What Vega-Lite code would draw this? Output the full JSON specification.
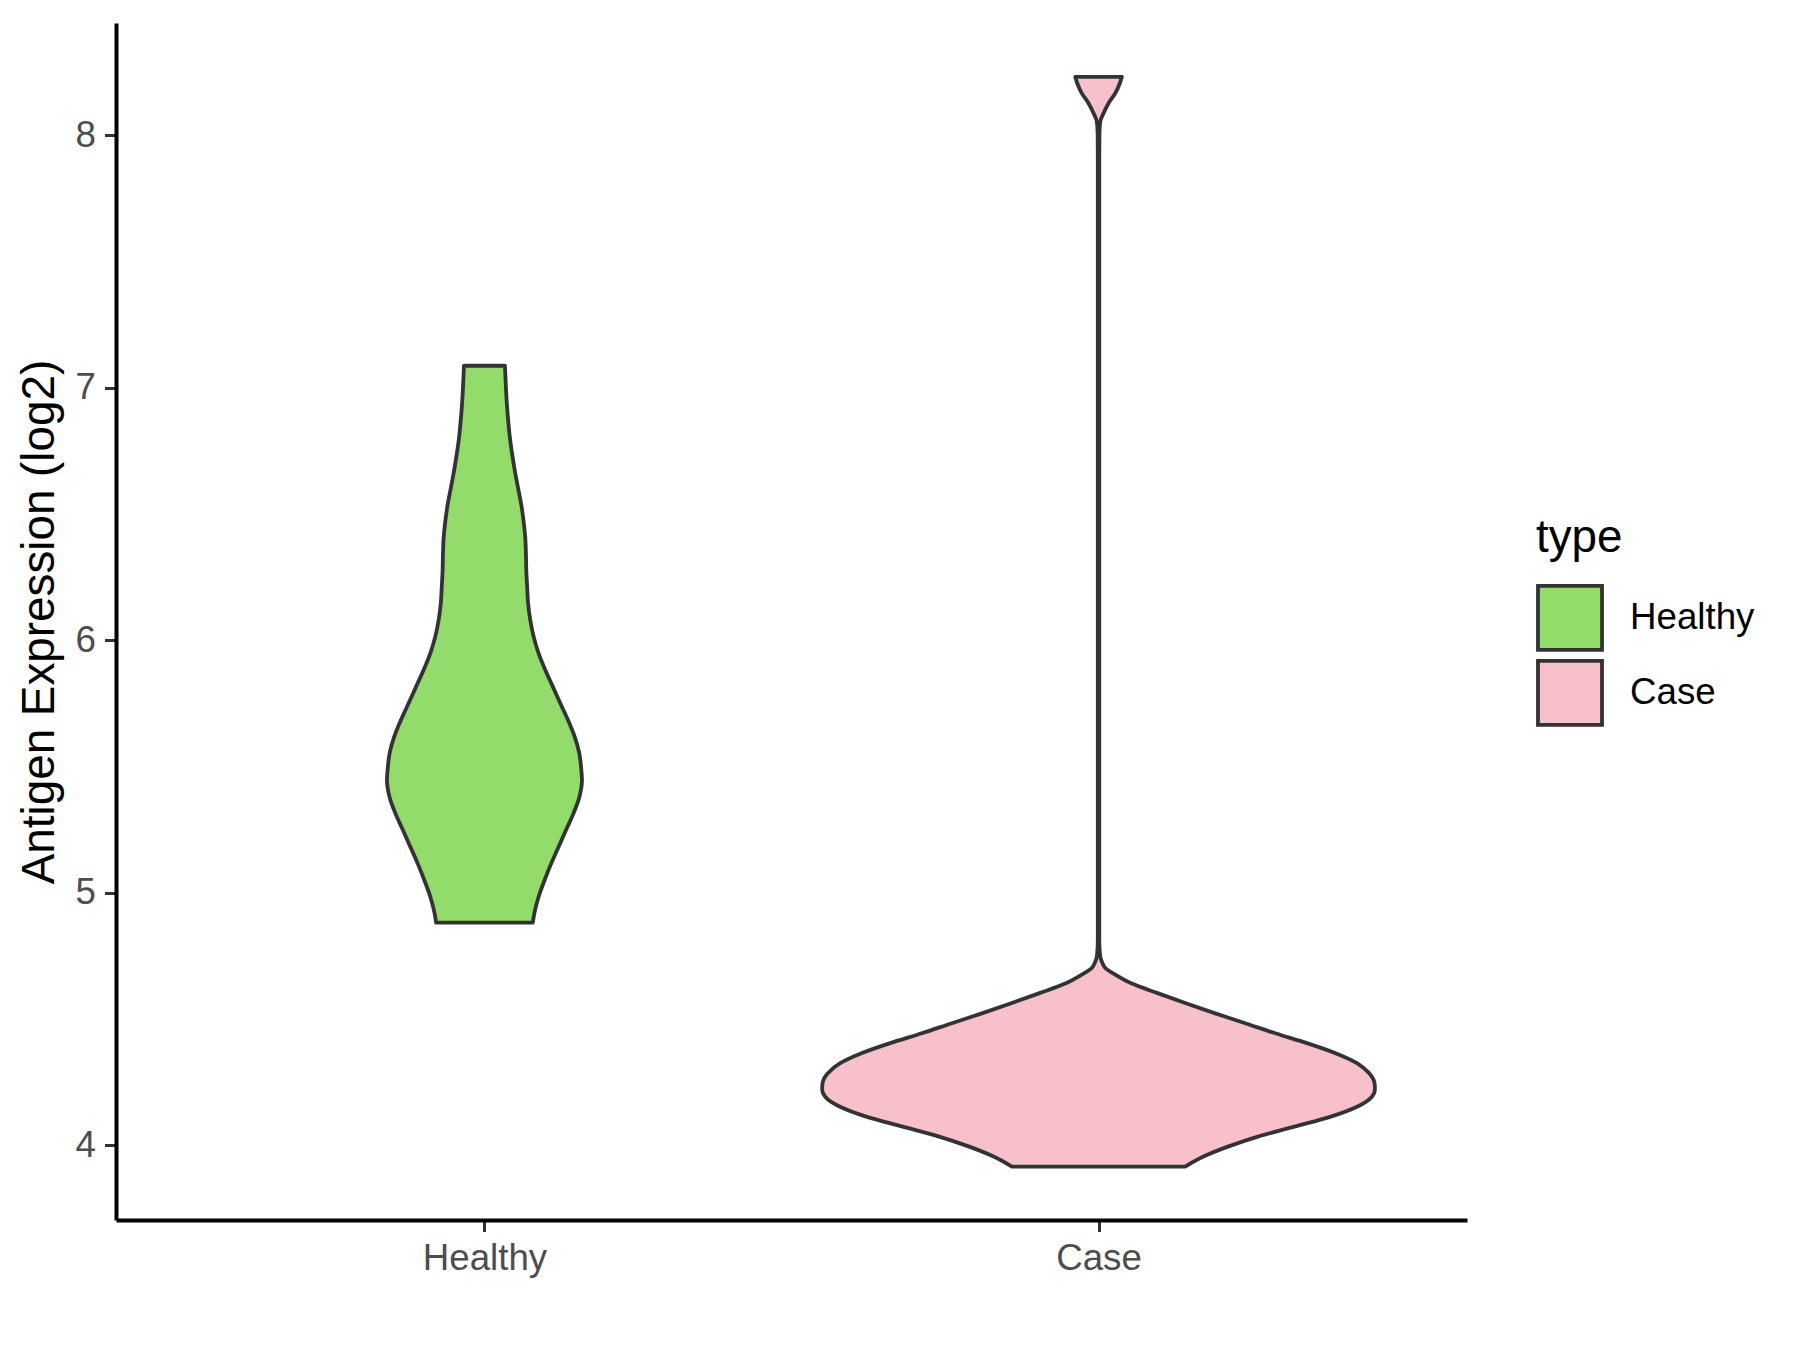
{
  "$schema": "https://vega.github.io/schema/vega-lite/v6.json",
  "width": 1351,
  "height": 1197,
  "autosize": {"type": "none"},
  "padding": {"left": 116, "top": 23, "right": 333, "bottom": 130},
  "background": "white",
  "config": {"view": {"stroke": null}, "font": "Liberation Sans"},
  "data": {
    "values": [
      {"type": "Healthy", "value": 7.088, "lo": 0.9666, "hi": 1.0334},
      {"type": "Healthy", "value": 6.999, "lo": 0.9650, "hi": 1.0350},
      {"type": "Healthy", "value": 6.933, "lo": 0.9634, "hi": 1.0366},
      {"type": "Healthy", "value": 6.867, "lo": 0.9612, "hi": 1.0388},
      {"type": "Healthy", "value": 6.801, "lo": 0.9585, "hi": 1.0415},
      {"type": "Healthy", "value": 6.735, "lo": 0.9547, "hi": 1.0453},
      {"type": "Healthy", "value": 6.669, "lo": 0.9503, "hi": 1.0497},
      {"type": "Healthy", "value": 6.603, "lo": 0.9452, "hi": 1.0548},
      {"type": "Healthy", "value": 6.537, "lo": 0.9400, "hi": 1.0600},
      {"type": "Healthy", "value": 6.471, "lo": 0.9362, "hi": 1.0638},
      {"type": "Healthy", "value": 6.405, "lo": 0.9335, "hi": 1.0665},
      {"type": "Healthy", "value": 6.339, "lo": 0.9324, "hi": 1.0676},
      {"type": "Healthy", "value": 6.279, "lo": 0.9319, "hi": 1.0681},
      {"type": "Healthy", "value": 6.213, "lo": 0.9305, "hi": 1.0695},
      {"type": "Healthy", "value": 6.147, "lo": 0.9289, "hi": 1.0711},
      {"type": "Healthy", "value": 6.081, "lo": 0.9254, "hi": 1.0746},
      {"type": "Healthy", "value": 6.015, "lo": 0.9199, "hi": 1.0801},
      {"type": "Healthy", "value": 5.949, "lo": 0.9118, "hi": 1.0882},
      {"type": "Healthy", "value": 5.883, "lo": 0.9009, "hi": 1.0991},
      {"type": "Healthy", "value": 5.817, "lo": 0.8887, "hi": 1.1113},
      {"type": "Healthy", "value": 5.751, "lo": 0.8765, "hi": 1.1235},
      {"type": "Healthy", "value": 5.685, "lo": 0.8640, "hi": 1.1360},
      {"type": "Healthy", "value": 5.619, "lo": 0.8531, "hi": 1.1469},
      {"type": "Healthy", "value": 5.553, "lo": 0.8455, "hi": 1.1545},
      {"type": "Healthy", "value": 5.487, "lo": 0.8423, "hi": 1.1577},
      {"type": "Healthy", "value": 5.448, "lo": 0.8412, "hi": 1.1588},
      {"type": "Healthy", "value": 5.381, "lo": 0.8453, "hi": 1.1547},
      {"type": "Healthy", "value": 5.316, "lo": 0.8548, "hi": 1.1452},
      {"type": "Healthy", "value": 5.250, "lo": 0.8670, "hi": 1.1330},
      {"type": "Healthy", "value": 5.183, "lo": 0.8792, "hi": 1.1208},
      {"type": "Healthy", "value": 5.117, "lo": 0.8912, "hi": 1.1088},
      {"type": "Healthy", "value": 5.051, "lo": 0.9020, "hi": 1.0980},
      {"type": "Healthy", "value": 4.985, "lo": 0.9118, "hi": 1.0882},
      {"type": "Healthy", "value": 4.919, "lo": 0.9188, "hi": 1.0812},
      {"type": "Healthy", "value": 4.882, "lo": 0.9213, "hi": 1.0787},
      {"type": "Case", "value": 8.232, "lo": 1.9620, "hi": 2.0380},
      {"type": "Case", "value": 8.207, "lo": 1.9653, "hi": 2.0347},
      {"type": "Case", "value": 8.167, "lo": 1.9728, "hi": 2.0272},
      {"type": "Case", "value": 8.128, "lo": 1.9837, "hi": 2.0163},
      {"type": "Case", "value": 8.088, "lo": 1.9919, "hi": 2.0081},
      {"type": "Case", "value": 8.055, "lo": 1.9972, "hi": 2.0028},
      {"type": "Case", "value": 8.009, "lo": 1.9985, "hi": 2.0015},
      {"type": "Case", "value": 7.9, "lo": 1.9988, "hi": 2.0012},
      {"type": "Case", "value": 7.0, "lo": 1.9988, "hi": 2.0012},
      {"type": "Case", "value": 6.0, "lo": 1.9988, "hi": 2.0012},
      {"type": "Case", "value": 5.0, "lo": 1.9988, "hi": 2.0012},
      {"type": "Case", "value": 4.814, "lo": 1.9988, "hi": 2.0012},
      {"type": "Case", "value": 4.761, "lo": 1.9978, "hi": 2.0022},
      {"type": "Case", "value": 4.740, "lo": 1.9965, "hi": 2.0035},
      {"type": "Case", "value": 4.721, "lo": 1.9935, "hi": 2.0065},
      {"type": "Case", "value": 4.700, "lo": 1.9880, "hi": 2.0120},
      {"type": "Case", "value": 4.682, "lo": 1.9767, "hi": 2.0233},
      {"type": "Case", "value": 4.642, "lo": 1.9468, "hi": 2.0532},
      {"type": "Case", "value": 4.603, "lo": 1.9039, "hi": 2.0961},
      {"type": "Case", "value": 4.563, "lo": 1.8578, "hi": 2.1422},
      {"type": "Case", "value": 4.523, "lo": 1.8100, "hi": 2.1900},
      {"type": "Case", "value": 4.484, "lo": 1.7611, "hi": 2.2389},
      {"type": "Case", "value": 4.444, "lo": 1.7123, "hi": 2.2877},
      {"type": "Case", "value": 4.405, "lo": 1.6607, "hi": 2.3393},
      {"type": "Case", "value": 4.365, "lo": 1.6140, "hi": 2.3860},
      {"type": "Case", "value": 4.325, "lo": 1.5787, "hi": 2.4213},
      {"type": "Case", "value": 4.286, "lo": 1.5592, "hi": 2.4408},
      {"type": "Case", "value": 4.246, "lo": 1.5505, "hi": 2.4495},
      {"type": "Case", "value": 4.220, "lo": 1.5499, "hi": 2.4501},
      {"type": "Case", "value": 4.193, "lo": 1.5548, "hi": 2.4452},
      {"type": "Case", "value": 4.154, "lo": 1.5782, "hi": 2.4218},
      {"type": "Case", "value": 4.114, "lo": 1.6216, "hi": 2.3784},
      {"type": "Case", "value": 4.075, "lo": 1.6797, "hi": 2.3203},
      {"type": "Case", "value": 4.035, "lo": 1.7405, "hi": 2.2595},
      {"type": "Case", "value": 3.995, "lo": 1.7894, "hi": 2.2106},
      {"type": "Case", "value": 3.956, "lo": 1.8290, "hi": 2.1710},
      {"type": "Case", "value": 3.916, "lo": 1.8589, "hi": 2.1411}
    ]
  },
  "mark": {
    "type": "area",
    "orient": "horizontal",
    "stroke": "#333333",
    "strokeWidth": 3.8,
    "strokeJoin": "round",
    "fillOpacity": 1,
    "interpolate": "monotone"
  },
  "encoding": {
    "y": {
      "field": "value",
      "type": "quantitative",
      "scale": {"domain": [3.7045, 8.4455], "nice": false, "zero": false},
      "axis": {
        "values": [4, 5, 6, 7, 8],
        "title": "Antigen Expression (log2)",
        "titleFont": "Liberation Sans",
        "titleFontSize": 45.8,
        "titleFontWeight": "normal",
        "titleColor": "black",
        "titlePadding": 12,
        "labelFont": "Liberation Sans",
        "labelFontSize": 36.7,
        "labelColor": "#4D4D4D",
        "labelPadding": 9,
        "tickSize": 11.5,
        "tickColor": "#333333",
        "tickWidth": 3,
        "domainColor": "black",
        "domainWidth": 4,
        "grid": false
      }
    },
    "x": {
      "field": "lo",
      "type": "quantitative",
      "scale": {"domain": [0.4, 2.6], "nice": false, "zero": false},
      "axis": {
        "values": [1, 2],
        "labelExpr": "datum.value == 1 ? 'Healthy' : 'Case'",
        "title": null,
        "labelFont": "Liberation Sans",
        "labelFontSize": 36.7,
        "labelColor": "#4D4D4D",
        "labelPadding": 9,
        "tickSize": 11.5,
        "tickColor": "#333333",
        "tickWidth": 3,
        "domainColor": "black",
        "domainWidth": 4,
        "grid": false
      }
    },
    "x2": {"field": "hi"},
    "fill": {
      "field": "type",
      "type": "nominal",
      "scale": {"domain": ["Healthy", "Case"], "range": ["#93DB6B", "#F7C0CB"]},
      "legend": {
        "orient": "none",
        "legendX": 1420,
        "legendY": 493,
        "title": "type",
        "titleFont": "Liberation Sans",
        "titleFontSize": 45.8,
        "titleFontWeight": "normal",
        "titleColor": "black",
        "titlePadding": 22,
        "labelFont": "Liberation Sans",
        "labelFontSize": 36.7,
        "labelColor": "black",
        "labelOffset": 26,
        "symbolType": "square",
        "symbolSize": 4100,
        "symbolStrokeColor": "#333333",
        "symbolStrokeWidth": 3.8,
        "symbolOpacity": 1,
        "rowPadding": -5,
        "encode": {
          "symbols": {
            "update": {
              "stroke": {"value": "#333333"},
              "strokeWidth": {"value": 3.8}
            }
          }
        }
      }
    }
  }
}
